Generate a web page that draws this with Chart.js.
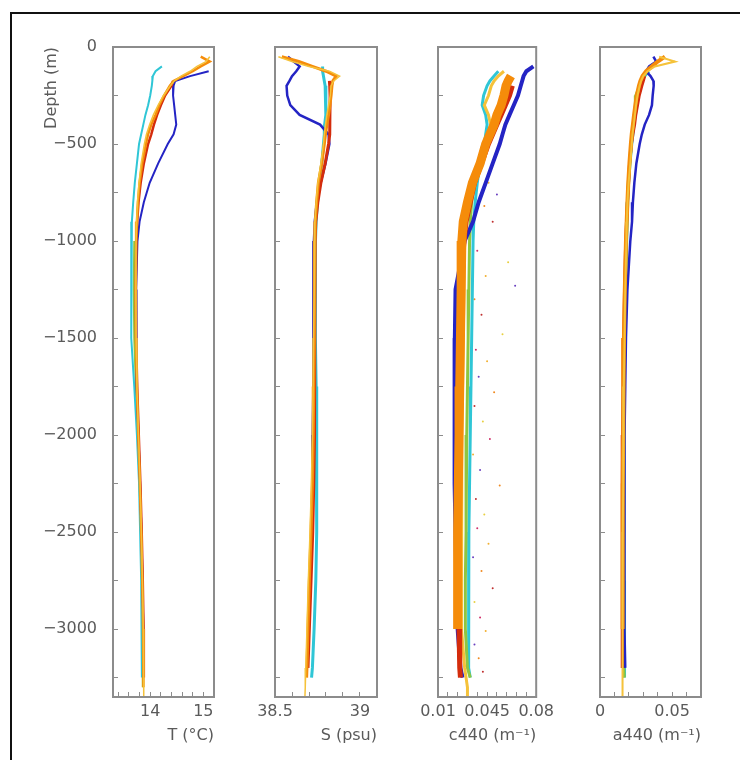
<!DOCTYPE html>
<html>
<head>
<meta charset="utf-8">
<title>Profiles</title>
<script src="https://cdn.jsdelivr.net/npm/chart.js@4.4.1/dist/chart.umd.min.js"></script>
<style>
  body { margin: 0; background: #fff; }
  #page { position: relative; width: 740px; height: 760px; overflow: hidden; background: #fff; }
  #frame { position: absolute; left: 10px; top: 12px; width: 800px; height: 800px; border: 2px solid #111; }
  .box { position: absolute; top: 0; height: 760px; }
</style>
</head>
<body>
<div id="page">
  <div id="frame"></div>
  <div class="box" style="left:0px;width:239px"><canvas id="chartT"></canvas></div>
  <div class="box" style="left:245px;width:157px"><canvas id="chartS"></canvas></div>
  <div class="box" style="left:408px;width:156px"><canvas id="chartC"></canvas></div>
  <div class="box" style="left:570px;width:156px"><canvas id="chartA"></canvas></div>
</div>
<script>
const _ = null;

// depth levels (m), shared by every profile
const depth = [-50, -75, -100, -125, -150, -175, -200, -250, -300, -350, -400, -450, -500, -600, -700,
  -800, -900, -1000, -1250, -1500, -1750, -2000, -2250, -2500, -2750, -3000, -3200, -3250, -3300, -3350];

// temperature (°C)
const tBlue   = [_, _, _, 15.10, 14.75, 14.47, 14.44, 14.43, 14.45, 14.47, 14.49, 14.44, 14.33, 14.15, 13.99,
  13.88, 13.80, 13.76, 13.735, 13.735, 13.75, 13.78, 13.81, 13.835, 13.855, 13.87, 13.875, _, _, _];
const tCyan   = [_, _, 14.22, 14.10, 14.05, 14.04, 14.03, 14.00, 13.96, 13.91, 13.87, 13.83, 13.79, 13.75, 13.71,
  13.68, 13.655, 13.64, 13.64, 13.65, 13.70, 13.75, 13.79, 13.81, 13.83, 13.84, 13.845, 13.845, _, _];
const tGreen  = [_, _, _, _, _, _, _, _, _, _, _, _, _, _, _,
  _, _, 13.70, 13.69, 13.70, 13.73, 13.77, 13.80, 13.825, 13.845, 13.855, 13.86, 13.86, 13.86, _];
const tRed    = [_, _, _, _, _, 14.43, 14.40, 14.28, 14.20, 14.13, 14.07, 14.02, 13.96, 13.88, 13.82,
  13.78, 13.755, 13.74, 13.73, 13.735, 13.755, 13.785, 13.815, 13.84, 13.86, 13.875, 13.88, 13.88, _, _];
const tOrange = [14.95, 15.12, 14.95, 14.80, 14.62, 14.44, 14.37, 14.26, 14.17, 14.10, 14.02, 13.96, 13.92, 13.85, 13.80,
  13.77, 13.75, 13.735, 13.725, 13.73, 13.75, 13.775, 13.805, 13.83, 13.85, 13.865, 13.87, 13.872, 13.875, _];
const tYellow = [15.12, 15.05, 14.88, 14.75, 14.58, 14.45, 14.38, 14.25, 14.15, 14.06, 13.99, 13.93, 13.89, 13.83, 13.79,
  13.76, 13.745, 13.735, 13.73, 13.735, 13.75, 13.78, 13.81, 13.835, 13.855, 13.87, 13.875, 13.878, 13.88, 13.88];

// salinity (psu)
const sBlue   = [38.576, 38.61, 38.645, 38.625, 38.60, 38.585, 38.568, 38.572, 38.59, 38.645, 38.765, 38.815, 38.82, 38.797, 38.768,
  38.746, 38.734, 38.729, 38.727, 38.726, 38.724, 38.722, 38.72, 38.715, 38.705, 38.697, 38.69, _, _, _];
const sCyan   = [_, _, 38.78, 38.78, 38.785, 38.79, 38.795, 38.80, 38.80, 38.797, 38.792, 38.79, 38.785, 38.775, 38.76,
  38.75, 38.742, 38.738, 38.737, 38.738, 38.742, 38.745, 38.746, 38.745, 38.74, 38.73, 38.72, 38.715, _, _];
const sRed    = [_, _, _, _, _, 38.82, 38.822, 38.824, 38.824, 38.823, 38.822, 38.822, 38.815, 38.795, 38.77,
  38.752, 38.74, 38.736, 38.735, 38.734, 38.733, 38.731, 38.728, 38.722, 38.712, 38.702, 38.694, _, _, _];
const sOrange = [38.54, 38.64, 38.72, 38.80, 38.86, 38.84, 38.835, 38.83, 38.823, 38.815, 38.805, 38.797, 38.79, 38.775, 38.755,
  38.745, 38.737, 38.735, 38.733, 38.73, 38.728, 38.725, 38.72, 38.712, 38.702, 38.694, 38.688, 38.686, _, _];
const sYellow = [38.52, 38.60, 38.70, 38.82, 38.88, 38.845, 38.83, 38.825, 38.815, 38.805, 38.797, 38.79, 38.785, 38.77, 38.752,
  38.742, 38.735, 38.732, 38.73, 38.727, 38.724, 38.72, 38.714, 38.706, 38.696, 38.688, 38.681, 38.679, 38.677, 38.676];

// beam attenuation c440 (1/m)
const cBlue   = [_, _, 0.078, 0.073, 0.071, 0.070, 0.069, 0.067, 0.064, 0.061, 0.058, 0.056, 0.054, 0.049, 0.044,
  0.039, 0.035, 0.029, 0.0225, 0.022, 0.0215, 0.022, 0.022, 0.0225, 0.023, 0.024, 0.026, 0.0275, _, _];
const cCyan   = [_, _, _, 0.053, 0.050, 0.047, 0.045, 0.0425, 0.0415, 0.044, 0.045, 0.044, 0.043, 0.040, 0.038,
  0.0365, 0.0355, 0.035, 0.0345, 0.034, 0.0335, 0.033, 0.0325, 0.032, 0.032, 0.0315, 0.032, 0.033, _, _];
const cGreen  = [_, _, _, _, _, _, _, _, _, _, _, _, 0.042, 0.039, 0.036,
  0.034, 0.033, 0.0325, 0.032, 0.0315, 0.031, 0.0305, 0.030, 0.030, 0.0295, 0.0295, 0.031, 0.033, _, _];
const cRed    = [_, _, _, _, _, _, 0.063, 0.061, 0.058, 0.055, 0.052, 0.049, 0.046, 0.041, 0.036,
  0.033, 0.030, 0.0285, 0.026, 0.025, 0.0245, 0.024, 0.024, 0.024, 0.0245, 0.025, 0.0255, 0.026, _, _];
const cOrange = [_, _, _, _, 0.062, 0.060, 0.0585, 0.057, 0.055, 0.052, 0.050, 0.047, 0.044, 0.040, 0.0345,
  0.031, 0.028, 0.027, 0.0265, 0.026, 0.0255, 0.025, 0.0245, 0.024, 0.024, 0.024, _, _, _, _];
const cYellow = [_, _, _, 0.057, 0.053, 0.050, 0.048, 0.046, 0.043, 0.046, 0.0475, 0.0455, 0.043, 0.039, 0.035,
  0.032, 0.030, 0.029, 0.0285, 0.028, 0.0275, 0.027, 0.027, 0.0265, 0.0265, 0.027, 0.029, 0.030, 0.031, 0.031];
// stray c440 samples right of the main band
const cDotValue = [0.040, 0.046, 0.052, 0.043, 0.049, 0.060, 0.038, 0.044, 0.065, 0.036, 0.041, 0.056, 0.037, 0.045,
  0.039, 0.050, 0.036, 0.042, 0.047, 0.035, 0.040, 0.054, 0.037, 0.043, 0.038, 0.046, 0.035, 0.041, 0.049, 0.036,
  0.040, 0.044, 0.036, 0.039, 0.042];
const cDotDepth = [-650, -700, -760, -820, -900, -1110, -1050, -1180, -1230, -1300, -1380, -1480, -1560, -1620,
  -1700, -1780, -1850, -1930, -2020, -2100, -2180, -2260, -2330, -2410, -2480, -2560, -2630, -2700, -2790, -2860,
  -2940, -3010, -3080, -3150, -3220];

// absorption a440 (1/m)
const aBlue   = [0.037, 0.039, 0.034, 0.032, 0.035, 0.037, 0.0372, 0.0365, 0.036, 0.034, 0.031, 0.029, 0.0275, 0.0252, 0.0238,
  0.0228, 0.0222, 0.021, 0.019, 0.018, 0.0175, 0.017, 0.017, 0.0168, 0.0168, 0.0172, 0.0175, _, _, _];
const aCyan   = [_, _, _, 0.034, 0.031, 0.029, 0.028, 0.0265, 0.0255, 0.0245, 0.0235, 0.0228, 0.022, 0.0208, 0.0198,
  0.0192, 0.0188, 0.0185, 0.0178, 0.0172, 0.0168, 0.0166, 0.0166, 0.0166, 0.0167, 0.0168, 0.017, 0.0172, _, _];
const aGreen  = [_, _, _, 0.0326, 0.030, 0.029, 0.0275, 0.0248, 0.0245, 0.0238, 0.023, 0.0222, 0.0215, 0.0205, 0.0196,
  0.019, 0.0186, 0.0183, 0.0176, 0.017, 0.0166, 0.0164, 0.0163, 0.0163, 0.0163, 0.0164, 0.0165, 0.0168, _, _];
const aRed    = [_, _, _, _, 0.031, 0.030, 0.029, 0.0272, 0.026, 0.0248, 0.024, 0.0228, 0.0218, 0.0205, 0.0198,
  0.019, 0.0184, 0.0178, 0.017, 0.0164, 0.016, 0.0157, 0.0155, 0.0154, 0.0153, 0.0153, 0.0155, _, _, _];
const aOrange = [0.045, 0.040, 0.036, 0.032, 0.0295, 0.028, 0.027, 0.0255, 0.0245, 0.0236, 0.0228, 0.022, 0.0214, 0.0204, 0.0196,
  0.019, 0.0185, 0.018, 0.0172, 0.0166, 0.0162, 0.016, 0.0158, 0.0157, 0.0157, 0.0157, _, _, _, _];
const aYellow = [0.041, 0.052, 0.038, 0.033, 0.030, 0.0285, 0.0275, 0.026, 0.025, 0.0242, 0.0234, 0.0225, 0.022, 0.021, 0.0198,
  0.019, 0.0186, 0.0183, 0.0175, 0.017, 0.0165, 0.0162, 0.016, 0.0158, 0.0157, 0.0156, 0.0156, 0.0156, 0.0156, 0.0156];

// ticks
const depthTicks  = [0, -250, -500, -750, -1000, -1250, -1500, -1750, -2000, -2250, -2500, -2750, -3000, -3250];
const depthLabels = ['0', '', '\u2212500', '', '\u22121000', '', '\u22121500', '', '\u22122000', '', '\u22122500', '', '\u22123000', ''];
const tTicks  = [13.4, 13.6, 13.8, 14.0, 14.2, 14.4, 14.6, 14.8, 15.0];
const tLabels = ['', '', '', '14', '', '', '', '', '15'];
const sTicks  = [38.5, 38.6, 38.7, 38.8, 38.9, 39.0];
const sLabels = ['38.5', '', '', '', '', '39'];
const cTicks  = [0.01, 0.017, 0.024, 0.031, 0.038, 0.045, 0.052, 0.059, 0.066, 0.073, 0.08];
const cLabels = ['0.01', '', '', '', '', '0.045', '', '', '', '', '0.08'];
const aTicks  = [0, 0.01, 0.02, 0.03, 0.04, 0.05, 0.06];
const aLabels = ['0', '', '', '', '', '0.05', ''];

const colBlue = '#2424c4', colCyan = '#2fc6d6', colGreen = '#8fc640', colRed = '#d42c0c',
  colOrange = '#f58c0a', colYellow = '#f5c23a';
const dotColors = ['#d0306a', '#f2b030', '#6a40c0', '#f08a20', '#c03030', '#e8d040'];

const tickFont = { family: "'DejaVu Sans', sans-serif", size: 16 };
const titleFont = { family: "'DejaVu Sans', sans-serif", size: 16 };
const textColor = '#5a5a5a';
const axisGray = '#8c8c8c';

function toPoints(vals) {
  return depth.map((d, i) => ({ x: vals[i], y: d })).filter(p => p.x !== null);
}

function profile(vals, color, width) {
  return { data: toPoints(vals), borderColor: color, borderWidth: width, pointRadius: 0,
    showLine: true, fill: false, tension: 0 };
}

const panelFrame = {
  id: 'panelFrame',
  afterDraw(chart) {
    const a = chart.chartArea;
    const ctx = chart.ctx;
    ctx.save();
    ctx.strokeStyle = axisGray;
    ctx.lineWidth = 2;
    ctx.strokeRect(a.left, a.top, a.right - a.left, a.bottom - a.top);
    ctx.restore();
  }
};

// datasets are listed bottom to top; chart.js paints the first one last, so flip them
function makePanel(id, xMin, xMax, xTicks, xLabels, xTitle, datasets, yWidth, withDepth) {
  return new Chart(document.getElementById(id), {
    type: 'scatter',
    data: { datasets: datasets.slice().reverse() },
    options: {
      responsive: true,
      maintainAspectRatio: false,
      animation: false,
      layout: { padding: { top: 47, right: 25, bottom: 0, left: 0 } },
      plugins: { legend: { display: false }, tooltip: { enabled: false } },
      scales: {
        x: {
          type: 'linear', min: xMin, max: xMax,
          afterBuildTicks: s => { s.ticks = xTicks.map(v => ({ value: v })); },
          afterFit: s => { s.height = 63; },
          grid: { drawOnChartArea: false, tickLength: -5, color: axisGray },
          border: { display: false },
          ticks: { autoSkip: false, maxRotation: 0, padding: 10, color: textColor, font: tickFont,
            callback: (v, i) => xLabels[i] },
          title: { display: true, text: xTitle, align: 'end', color: textColor, font: titleFont,
            padding: { top: 0, bottom: 15 } }
        },
        y: {
          type: 'linear', min: -3350, max: 0,
          afterBuildTicks: s => { s.ticks = depthTicks.map(v => ({ value: v })); },
          afterFit: s => { s.width = yWidth; },
          grid: { drawOnChartArea: false, tickLength: -5, color: axisGray },
          border: { display: false },
          ticks: { autoSkip: false, padding: 21, color: textColor, font: tickFont,
            callback: (v, i) => withDepth ? depthLabels[i] : '' },
          title: { display: withDepth, text: 'Depth (m)', align: 'end', color: textColor, font: titleFont,
            padding: { top: 42, bottom: 0 } }
        }
      }
    },
    plugins: [panelFrame]
  });
}

makePanel('chartT', 13.3, 15.2, tTicks, tLabels, 'T (\u00B0C)', [
  profile(tGreen, colGreen, 2),
  profile(tCyan, colCyan, 2),
  profile(tBlue, colBlue, 2),
  profile(tRed, colRed, 2.5),
  profile(tOrange, colOrange, 2.5),
  profile(tYellow, colYellow, 1.5)
], 113, true);

makePanel('chartS', 38.5, 39.1, sTicks, sLabels, 'S (psu)', [
  profile(sCyan, colCyan, 3),
  profile(sBlue, colBlue, 2.5),
  profile(sRed, colRed, 3),
  profile(sOrange, colOrange, 3),
  profile(sYellow, colYellow, 1.5)
], 30, false);

const cDots = cDotValue.map((v, i) => ({ x: v, y: cDotDepth[i] }));

makePanel('chartC', 0.01, 0.08, cTicks, cLabels, 'c440 (m\u207B\u00B9)', [
  { data: cDots, showLine: false, pointRadius: 1, borderWidth: 0,
    pointBackgroundColor: ctx => dotColors[ctx.dataIndex % dotColors.length] },
  profile(cCyan, colCyan, 3),
  profile(cGreen, colGreen, 3),
  profile(cBlue, colBlue, 4),
  profile(cYellow, colYellow, 3),
  profile(cRed, colRed, 5),
  profile(cOrange, colOrange, 9)
], 30, false);

makePanel('chartA', 0, 0.07, aTicks, aLabels, 'a440 (m\u207B\u00B9)', [
  profile(aCyan, colCyan, 3),
  profile(aGreen, colGreen, 3),
  profile(aBlue, colBlue, 2.5),
  profile(aRed, colRed, 3),
  profile(aOrange, colOrange, 4),
  profile(aYellow, colYellow, 2)
], 30, false);
</script>
</body>
</html>
